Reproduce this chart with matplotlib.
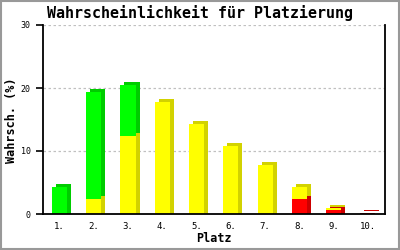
import matplotlib
matplotlib.use("Agg")
import matplotlib.pyplot as plt
import matplotlib.transforms as mtransforms
from matplotlib.patches import Rectangle
import numpy as np

# Data
places = ["1.", "2.", "3.", "4.", "5.", "6.", "7.", "8.", "9.", "10."]
red_vals = [0, 0, 0, 0, 0, 0, 0, 2.4, 0.7, 0.1]
yellow_vals = [0, 2.4, 12.4, 17.8, 14.3, 10.8, 7.8, 1.9, 0.3, 0]
green_vals = [4.3, 16.9, 8.1, 0, 0, 0, 0, 0, 0, 0]
yticks = [0, 10, 20, 30]

title = "Wahrscheinlichkeit für Platzierung"
xlabel = "Platz"
ylabel = "Wahrsch. (%)"

FONT = ["DejaVu Sans Mono"]

fig = plt.figure(figsize=(4, 2.5), dpi=100)
fig.patch.set_facecolor("white")
ax = fig.add_axes([43/400, 1-214/250, (385-43)/400, (214-25)/250])

x = np.arange(1, len(places) + 1)
w = 0.44

series = [
    (red_vals, "#ff0000", "#cc0000"),
    (yellow_vals, "#ffff00", "#d2d200"),
    (green_vals, "#00ff00", "#00cc00"),
]

offset = mtransforms.ScaledTranslation(4/100, 3/100, fig.dpi_scale_trans)
shift_tr = ax.transData + offset

totals = np.array(red_vals) + np.array(yellow_vals) + np.array(green_vals)
ext_arr = np.where(totals >= 1, 0.5, 0.0)  # side face reaches the baseline

# side / top faces (shifted darker copies)
bottom = np.zeros(len(x))
first = np.ones(len(x), dtype=bool)
for vals, front, dark in series:
    vals = np.array(vals, dtype=float)
    mask = vals > 0
    e = np.where(first, ext_arr, 0)
    b = bottom - e
    h = vals + e
    ax.bar(x[mask], h[mask], w, bottom=b[mask], color=dark,
           linewidth=0, transform=shift_tr, zorder=2, clip_on=True)
    first = first & ~mask
    bottom += vals

# front faces
bottom = np.zeros(len(x))
for vals, front, dark in series:
    vals = np.array(vals, dtype=float)
    mask = vals > 0
    ax.bar(x[mask], vals[mask], w, bottom=bottom[mask], color=front,
           linewidth=0, zorder=3)
    bottom += vals

ax.set_xlim(0.52, 10.5)
ax.set_ylim(0, 30)
ax.set_yticks(yticks)
ax.set_yticklabels([str(t) for t in yticks], fontfamily=FONT, fontsize=6)
ax.set_xticks(x)
ax.set_xticklabels(places, fontfamily=FONT, fontsize=6.5)
ax.tick_params(axis="x", length=0, pad=6)
ax.tick_params(axis="y", length=5, width=1.2, pad=4, direction="out")

ax.yaxis.grid(True, color="#c0c0c0", linestyle=(0, (2, 2)), linewidth=0.9)
ax.set_axisbelow(True)

for s in ["left", "bottom", "right"]:
    ax.spines[s].set_linewidth(1.3)
    ax.spines[s].set_color("black")
    ax.spines[s].set_zorder(4)
ax.spines["top"].set_visible(False)

fig.text(0.5, 1-13/250, title, ha="center", va="center",
         fontfamily=FONT, fontweight="bold", fontsize=10.8)
fig.text(214/400, 1-238/250, xlabel, ha="center", va="center",
         fontfamily=FONT, fontweight="bold", fontsize=8.5)
fig.text(12/400, 1-120/250, ylabel, ha="center", va="center", rotation=90,
         fontfamily=FONT, fontweight="bold", fontsize=8.5)

fig.patches.append(Rectangle((0.002, 0.004), 0.995, 0.993, transform=fig.transFigure,
                             fill=False, edgecolor="#999999", linewidth=1.5))

fig.savefig("out.png", dpi=100, facecolor="white")
